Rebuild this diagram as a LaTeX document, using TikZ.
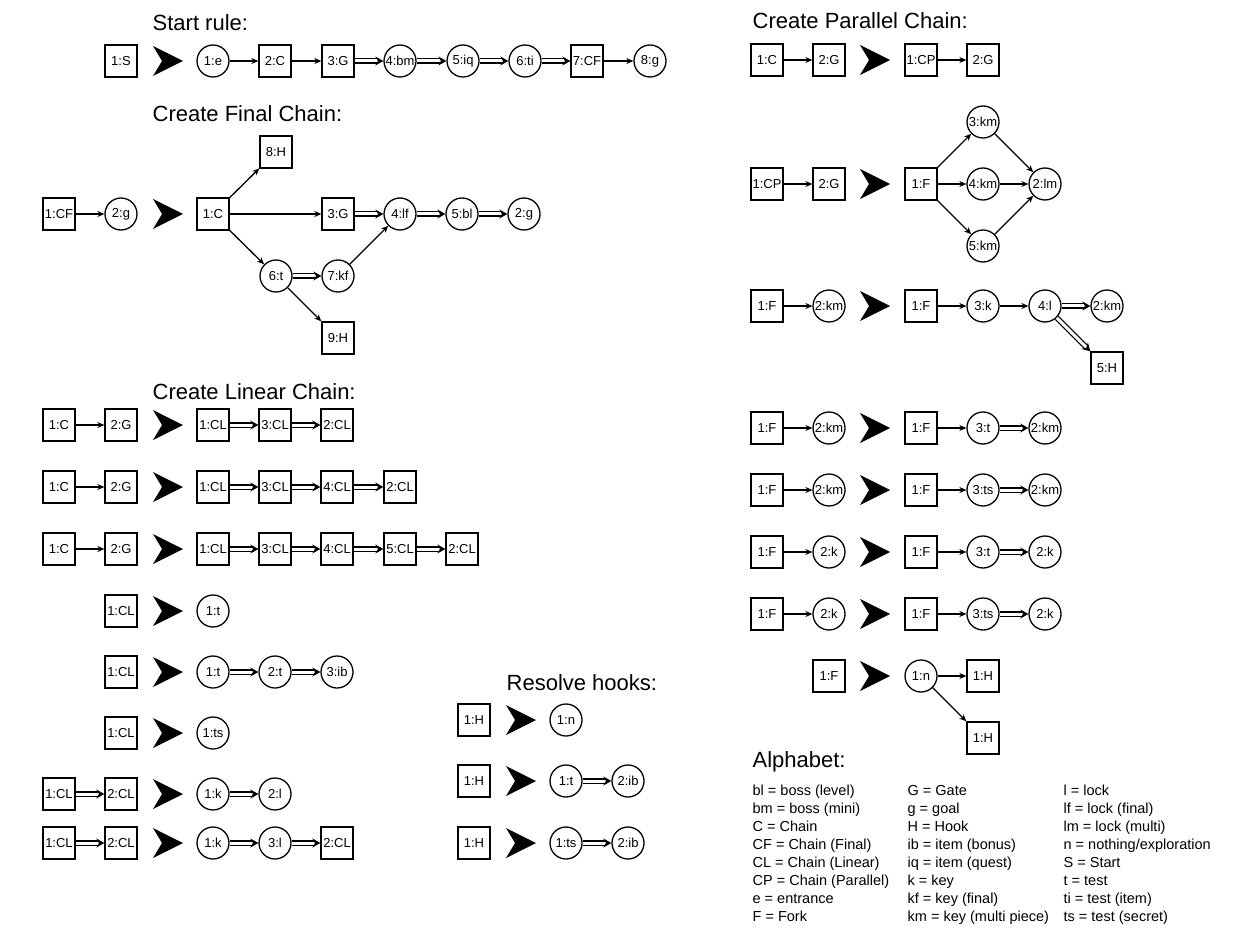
\documentclass[tikz,border=0pt]{standalone}
\usepackage{fontspec}
\setmainfont{Liberation Sans}
\usetikzlibrary{arrows.meta}

\tikzset{
  box/.style={draw,rectangle,minimum size=32pt,inner sep=0pt,font=\fontsize{13}{15}\selectfont},
  ring/.style={draw,circle,minimum size=32pt,inner sep=0pt,font=\fontsize{13}{15}\selectfont},
  dbl/.style={double,double distance=3pt,-{Stealth[length=8pt,width=9pt]}},
  heading/.style={anchor=base west,inner sep=0pt,font=\fontsize{22}{26}\selectfont},
  alphabet/.style={anchor=base west,inner sep=0pt,font=\fontsize{14.5}{18}\selectfont},
  becomes/.pic={\fill (-15,-15) -- (15,0) -- (-15,15) -- (-6,0) -- cycle;}
}

\begin{document}
\begin{tikzpicture}[x=1pt,y=-1pt,line width=1.3pt,>={Stealth[length=7pt,width=6pt]}]
	\useasboundingbox (0,0) rectangle (1250,933);

	\node[heading] (hs) at (152,31) {Start rule:};
	\node[box] (s0) at (121,61) {1:S};
	\pic at (168,61) {becomes};
	\foreach \n/\x/\s/\l in {1/213/ring/1:e, 2/275/box/2:C, 3/338/box/3:G, 4/400/ring/4:bm,
			5/463/ring/5:iq, 6/525/ring/6:ti, 7/587/box/7:CF, 8/650/ring/8:g}
		\node[\s] (s\n) at (\x,61) {\l};
	\foreach \a/\b in {1/2, 2/3, 7/8} \draw[->] (s\a)--(s\b);
	\foreach \a/\b in {3/4, 4/5, 5/6, 6/7} \draw[dbl] (s\a)--(s\b);

	\node[heading] (hf) at (152,122) {Create Final Chain:};
	\node[box] (f0) at (59,214) {1:CF};
	\node[ring] (f1) at (121,214) {2:g};
	\draw[->] (f0)--(f1);
	\pic at (168,214) {becomes};
	\node[box] (fC) at (213,214) {1:C};
	\node[box] (fH8) at (276,152) {8:H};
	\node[box] (fG) at (338,214) {3:G};
	\node[ring] (flf) at (400,214) {4:lf};
	\node[ring] (fbl) at (462,214) {5:bl};
	\node[ring] (fg) at (524,214) {2:g};
	\node[ring] (ft) at (276,276) {6:t};
	\node[ring] (fkf) at (338,276) {7:kf};
	\node[box] (fH9) at (338,338) {9:H};
	\foreach \a/\b in {fC/fH8, fC/fG, fC/ft, fkf/flf, ft/fH9} \draw[->] (\a)--(\b);
	\foreach \a/\b in {fG/flf, flf/fbl, fbl/fg, ft/fkf} \draw[dbl] (\a)--(\b);

	\node[heading] (hl) at (152,399) {Create Linear Chain:};
	\foreach \r/\y in {1/425, 2/487, 3/549} {
		\node[box] (l\r-a) at (59,\y) {1:C};
		\node[box] (l\r-b) at (121,\y) {2:G};
		\draw[->] (l\r-a)--(l\r-b);
		\pic at (168,\y) {becomes};
	}
	\node[box] (l1-1) at (213,425) {1:CL};
	\node[box] (l1-3) at (275,425) {3:CL};
	\node[box] (l1-2) at (337,425) {2:CL};
	\draw[dbl] (l1-1)--(l1-3); \draw[dbl] (l1-3)--(l1-2);
	\node[box] (l2-1) at (213,487) {1:CL};
	\node[box] (l2-3) at (275,487) {3:CL};
	\node[box] (l2-4) at (337,487) {4:CL};
	\node[box] (l2-2) at (400,487) {2:CL};
	\draw[dbl] (l2-1)--(l2-3); \draw[dbl] (l2-3)--(l2-4); \draw[dbl] (l2-4)--(l2-2);
	\node[box] (l3-1) at (213,549) {1:CL};
	\node[box] (l3-3) at (275,549) {3:CL};
	\node[box] (l3-4) at (337,549) {4:CL};
	\node[box] (l3-5) at (400,549) {5:CL};
	\node[box] (l3-2) at (462,549) {2:CL};
	\draw[dbl] (l3-1)--(l3-3); \draw[dbl] (l3-3)--(l3-4); \draw[dbl] (l3-4)--(l3-5); \draw[dbl] (l3-5)--(l3-2);

	\foreach \r/\y in {4/611, 5/672, 6/733} {
		\node[box] (l\r-a) at (121,\y) {1:CL};
		\pic at (168,\y) {becomes};
	}
	\node[ring] (l4-1) at (213,611) {1:t};
	\node[ring] (l5-1) at (213,672) {1:t};
	\node[ring] (l5-2) at (275,672) {2:t};
	\node[ring] (l5-3) at (337,672) {3:ib};
	\draw[dbl] (l5-1)--(l5-2); \draw[dbl] (l5-2)--(l5-3);
	\node[ring] (l6-1) at (213,733) {1:ts};

	\foreach \r/\y in {7/794, 8/843} {
		\node[box] (l\r-a) at (59,\y) {1:CL};
		\node[box] (l\r-b) at (121,\y) {2:CL};
		\draw[dbl] (l\r-a)--(l\r-b);
		\pic at (168,\y) {becomes};
		\node[ring] (l\r-1) at (213,\y) {1:k};
	}
	\node[ring] (l7-2) at (275,794) {2:l};
	\draw[dbl] (l7-1)--(l7-2);
	\node[ring] (l8-3) at (275,843) {3:l};
	\node[box] (l8-2) at (337,843) {2:CL};
	\draw[dbl] (l8-1)--(l8-3); \draw[dbl] (l8-3)--(l8-2);

	\node[heading] (hr) at (506,690) {Resolve hooks:};
	\foreach \r/\y in {1/720, 2/781, 3/843} {
		\node[box] (r\r-a) at (474,\y) {1:H};
		\pic at (521,\y) {becomes};
	}
	\node[ring] (r1-1) at (566,720) {1:n};
	\node[ring] (r2-1) at (566,781) {1:t};
	\node[ring] (r2-2) at (628,781) {2:ib};
	\draw[dbl] (r2-1)--(r2-2);
	\node[ring] (r3-1) at (566,843) {1:ts};
	\node[ring] (r3-2) at (628,843) {2:ib};
	\draw[dbl] (r3-1)--(r3-2);

	\node[heading] (hp) at (752,29) {Create Parallel Chain:};
	\node[box] (p1-a) at (767,60) {1:C};
	\node[box] (p1-b) at (829,60) {2:G};
	\pic at (875,60) {becomes};
	\node[box] (p1-1) at (921,60) {1:CP};
	\node[box] (p1-2) at (983,60) {2:G};
	\draw[->] (p1-a)--(p1-b); \draw[->] (p1-1)--(p1-2);

	\node[box] (p2-a) at (767,184) {1:CP};
	\node[box] (p2-b) at (829,184) {2:G};
	\pic at (875,184) {becomes};
	\node[box] (p2-1) at (921,184) {1:F};
	\node[ring] (p2-3) at (983,122) {3:km};
	\node[ring] (p2-4) at (983,184) {4:km};
	\node[ring] (p2-5) at (983,246) {5:km};
	\node[ring] (p2-2) at (1045,184) {2:lm};
	\draw[->] (p2-a)--(p2-b);
	\foreach \n in {3,4,5} {
		\draw[->] (p2-1)--(p2-\n);
		\draw[->] (p2-\n)--(p2-2);
	}

	\node[box] (p3-a) at (767,306) {1:F};
	\node[ring] (p3-b) at (829,306) {2:km};
	\pic at (875,306) {becomes};
	\node[box] (p3-1) at (921,306) {1:F};
	\node[ring] (p3-3) at (983,306) {3:k};
	\node[ring] (p3-4) at (1045,306) {4:l};
	\node[ring] (p3-2) at (1107,306) {2:km};
	\node[box] (p3-5) at (1107,368) {5:H};
	\draw[->] (p3-a)--(p3-b); \draw[->] (p3-1)--(p3-3); \draw[->] (p3-3)--(p3-4);
	\draw[dbl] (p3-4)--(p3-2); \draw[dbl] (p3-4)--(p3-5);

	\foreach \r/\y/\tn/\kn in {4/428/t/km, 5/490/ts/km, 6/552/t/k, 7/614/ts/k} {
		\node[box] (p\r-a) at (767,\y) {1:F};
		\node[ring] (p\r-b) at (829,\y) {2:\kn};
		\pic at (875,\y) {becomes};
		\node[box] (p\r-1) at (921,\y) {1:F};
		\node[ring] (p\r-3) at (983,\y) {3:\tn};
		\node[ring] (p\r-2) at (1045,\y) {2:\kn};
		\draw[->] (p\r-a)--(p\r-b); \draw[->] (p\r-1)--(p\r-3);
		\draw[dbl] (p\r-3)--(p\r-2);
	}

	\node[box] (p8-a) at (829,676) {1:F};
	\pic at (875,676) {becomes};
	\node[ring] (p8-1) at (921,676) {1:n};
	\node[box] (p8-2) at (983,676) {1:H};
	\node[box] (p8-3) at (983,738) {1:H};
	\draw[->] (p8-1)--(p8-2); \draw[->] (p8-1)--(p8-3);

	\node[heading] (ha) at (752,767) {Alphabet:};
	\foreach \a/\b/\c [count=\i from 0] in {
			bl = boss (level)/G = Gate/l = lock,
			bm = boss (mini)/g = goal/lf = lock (final),
			C = Chain/H = Hook/lm = lock (multi),
			CF = Chain (Final)/ib = item (bonus)/{n = nothing/exploration},
			CL = Chain (Linear)/iq = item (quest)/S = Start,
			CP = Chain (Parallel)/k = key/t = test,
			e = entrance/kf = key (final)/ti = test (item),
			F = Fork/km = key (multi piece)/ts = test (secret)} {
		\node[alphabet] (a\i) at (752,795+18.1*\i) {\a};
		\node[alphabet] (b\i) at (907,795+18.1*\i) {\b};
		\node[alphabet] (c\i) at (1063,795+18.1*\i) {\c};
	}
\end{tikzpicture}
\end{document}
